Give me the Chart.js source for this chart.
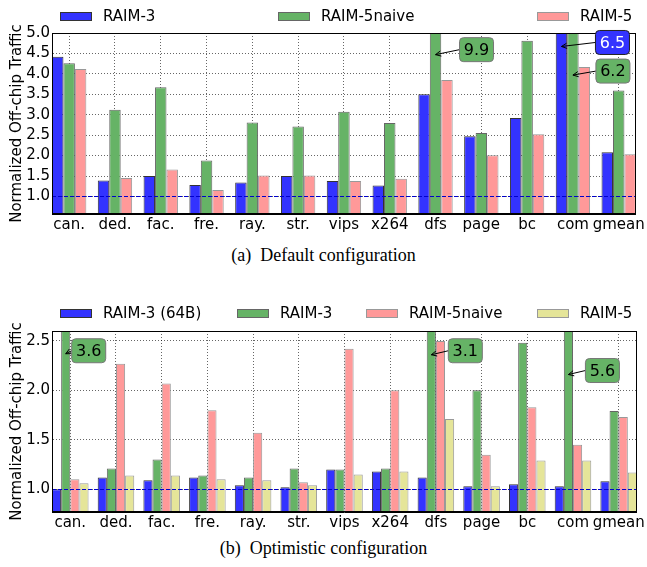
<!DOCTYPE html>
<html>
<head>
<meta charset="utf-8">
<script src="https://cdn.jsdelivr.net/npm/chart.js@4.4.1/dist/chart.umd.min.js"></script>
<style>
  html, body { margin: 0; padding: 0; background: #fff; }
  body { width: 647px; height: 567px; position: relative; overflow: hidden; }
  canvas { position: absolute; left: 0; }
  #Default_Chart { top: 0; }
  #Optimistic_Chart { top: 290px; }
  .cap { position: absolute; left: 0; width: 647px; text-align: center; white-space: pre;
         font-family: "Liberation Serif", "Times New Roman", serif; font-size: 18px; color: #000; line-height: 20px; }
</style>
</head>
<body>
<canvas id="Default_Chart" width="647" height="240"></canvas>
<div class="cap" style="top:245px">(a)  Default configuration</div>
<canvas id="Optimistic_Chart" width="647" height="248"></canvas>
<div class="cap" style="top:538px">(b)  Optimistic configuration</div>
<script>
// benchmarks
const benchmarks = ["can.", "ded.", "fac.", "fre.", "ray.", "str.", "vips", "x264", "dfs", "page", "bc", "com", "gmean"];

// (a) default configuration
const def_raim3      = [4.42, 1.39, 1.50, 1.28, 1.34, 1.50, 1.38, 1.27, 3.50, 2.47, 2.92, 6.5, 2.08];
const def_raim5naive = [4.26, 3.12, 3.67, 1.88, 2.81, 2.71, 3.07, 2.80, 9.9, 2.55, 4.81, 6.2, 3.59];
const def_raim5      = [4.12, 1.45, 1.66, 1.16, 1.51, 1.51, 1.38, 1.43, 3.85, 2.01, 2.52, 4.17, 2.03];
const def_ticks = [1.0, 1.5, 2.0, 2.5, 3.0, 3.5, 4.0, 4.5, 5.0];

// (b) optimistic configuration
const opt_raim3_64b  = [1.00, 1.12, 1.09, 1.12, 1.04, 1.02, 1.20, 1.18, 1.12, 1.03, 1.05, 1.03, 1.08];
const opt_raim3      = [3.6, 1.21, 1.30, 1.14, 1.12, 1.21, 1.20, 1.21, 3.1, 2.00, 2.48, 5.6, 1.79];
const opt_raim5naive = [1.10, 2.27, 2.07, 1.80, 1.57, 1.07, 2.42, 2.00, 2.50, 1.35, 1.83, 1.45, 1.73];
const opt_raim5      = [1.06, 1.14, 1.14, 1.10, 1.09, 1.04, 1.15, 1.18, 1.71, 1.03, 1.29, 1.29, 1.17];
const opt_ticks = [1.0, 1.5, 2.0, 2.5];

const baseline = 1.0;

const FONT = 'DejaVu Sans';
const BLUE = '#3333ff', GREEN = '#66b366', PINK = '#ff9999', YELLOW = '#e5e599';

function toXY(arr) {
    return arr.map((v, i) => ({x: i, y: v}));
}

// legend row, dashed baseline, frame and the labels for clipped bars
const extras = {
    id: 'extras',
    afterDraw(chart, args, opts) {
        const ctx = chart.ctx, a = chart.chartArea;
        const ys = chart.scales.y;
        ctx.save();

        // baseline at 1.0
        const yb = Math.round(ys.getPixelForValue(baseline)) + 0.5;
        ctx.strokeStyle = '#0000cc';
        ctx.lineWidth = 1;
        ctx.setLineDash([4, 2]);
        ctx.beginPath();
        ctx.moveTo(a.left, yb);
        ctx.lineTo(a.right, yb);
        ctx.stroke();
        ctx.setLineDash([]);

        // frame
        ctx.strokeStyle = '#000';
        ctx.strokeRect(Math.round(a.left) + 0.5, Math.round(a.top) + 0.5,
                       Math.round(a.right - a.left) - 1, Math.round(a.bottom - a.top) - 1);

        // legend
        ctx.font = '15px "' + FONT + '"';
        ctx.textBaseline = 'middle';
        ctx.textAlign = 'left';
        chart.data.datasets.forEach((ds, i) => {
            const lx = opts.legendX[i], ly = opts.legendY;
            ctx.fillStyle = ds.backgroundColor;
            ctx.fillRect(lx, ly - 4.5, 32, 9);
            ctx.strokeStyle = ds.borderColor;
            ctx.strokeRect(lx + 0.5, ly - 4.5 + 0.5, 31, 8);
            ctx.fillStyle = '#000';
            ctx.fillText(ds.label, lx + 43, ly + 1);
        });

        // notes for the bars that leave the axes
        opts.notes.forEach(n => {
            const bar = chart.getDatasetMeta(n.ds).data[n.i];
            const tx = bar.x, ty = ys.getPixelForValue(n.tip);
            const cx = tx + n.dx, cy = ty + n.dy;
            const w = 34, h = 24;
            // arrow
            ctx.strokeStyle = '#000';
            ctx.lineWidth = 1;
            ctx.beginPath();
            ctx.moveTo(cx - w / 2, cy);
            ctx.lineTo(tx, ty);
            ctx.stroke();
            const ang = Math.atan2(cy - ty, cx - w / 2 - tx);
            ctx.beginPath();
            ctx.moveTo(tx + 6 * Math.cos(ang - 0.45), ty + 6 * Math.sin(ang - 0.45));
            ctx.lineTo(tx, ty);
            ctx.lineTo(tx + 6 * Math.cos(ang + 0.45), ty + 6 * Math.sin(ang + 0.45));
            ctx.stroke();
            // box
            ctx.beginPath();
            ctx.roundRect(cx - w / 2, cy - h / 2, w, h, 4);
            ctx.fillStyle = n.fill;
            ctx.fill();
            ctx.strokeStyle = n.edge;
            ctx.stroke();
            ctx.fillStyle = n.color;
            ctx.textAlign = 'center';
            ctx.font = '16px "' + FONT + '"';
            const val = chart.data.datasets[n.ds].data[n.i].y;
            ctx.fillText(val.toFixed(1), cx, cy + 1);
            ctx.textAlign = 'left';
        });
        ctx.restore();
    }
};

function makeOptions(ymin, ymax, yticks, xpad, legendX, legendY, notes, topPad) {
    const gridStyle = {color: 'rgba(0,0,0,0.6)', drawTicks: false, offset: false, lineWidth: 1};
    return {
        responsive: false,
        animation: false,
        layout: {padding: {top: topPad, right: 9, left: 0, bottom: 0}},
        plugins: {
            legend: {display: false},
            tooltip: {enabled: false},
            extras: {legendX: legendX, legendY: legendY, notes: notes}
        },
        datasets: {bar: {categoryPercentage: 2 * xpad, barPercentage: 1.0, borderWidth: 1}},
        scales: {
            x: {
                type: 'linear', min: -xpad, max: benchmarks.length - 1 + xpad, offset: false, z: 1,
                afterBuildTicks: s => { s.ticks = benchmarks.map((b, i) => ({value: i})); },
                afterFit: s => { s.height = 26; },
                ticks: {callback: v => benchmarks[v], color: '#000', font: {family: FONT, size: 15},
                        padding: 2, maxRotation: 0, autoSkip: false},
                grid: gridStyle,
                border: {color: '#000', dash: [1, 2]}
            },
            y: {
                min: ymin, max: ymax, z: 1,
                afterBuildTicks: s => { s.ticks = yticks.map(v => ({value: v})); },
                afterFit: s => { s.width = 52; },
                ticks: {callback: v => v.toFixed(1), color: '#000', font: {family: FONT, size: 15}, padding: 2},
                grid: gridStyle,
                border: {color: '#000', dash: [1, 2]},
                title: {display: true, text: 'Normalized Off-chip Traffic', color: '#000',
                        font: {family: FONT, size: 15}, padding: {top: 8, bottom: 0}}
            }
        }
    };
}

// (a)
let def_c = document.getElementById('Default_Chart');
let def_chart = new Chart(def_c, {
    type: 'bar',
    data: {
        datasets: [{
            label: "RAIM-3",
            data: toXY(def_raim3),
            backgroundColor: BLUE,
            borderColor: '#333333'
        },{
            label: "RAIM-5naive",
            data: toXY(def_raim5naive),
            backgroundColor: GREEN,
            borderColor: '#666666'
        },{
            label: "RAIM-5",
            data: toXY(def_raim5),
            backgroundColor: PINK,
            borderColor: '#999999'
        }]
    },
    options: makeOptions(0.57, 5.0, def_ticks, 0.375, [60, 278, 537], 16.5, [
        {ds: 1, i: 8, tip: 4.47, dx: 41, dy: -5, fill: GREEN, edge: '#777', color: '#000'},
        {ds: 0, i: 11, tip: 4.67, dx: 51, dy: -4, fill: BLUE, edge: '#222', color: '#fff'},
        {ds: 1, i: 11, tip: 3.97, dx: 40, dy: -4, fill: GREEN, edge: '#777', color: '#000'}
    ], 33),
    plugins: [extras]
});

// (b)
let opt_c = document.getElementById('Optimistic_Chart');
let opt_chart = new Chart(opt_c, {
    type: 'bar',
    data: {
        datasets: [{
            label: "RAIM-3 (64B)",
            data: toXY(opt_raim3_64b),
            backgroundColor: BLUE,
            borderColor: '#333333'
        },{
            label: "RAIM-3",
            data: toXY(opt_raim3),
            backgroundColor: GREEN,
            borderColor: '#666666'
        },{
            label: "RAIM-5naive",
            data: toXY(opt_raim5naive),
            backgroundColor: PINK,
            borderColor: '#999999'
        },{
            label: "RAIM-5",
            data: toXY(opt_raim5),
            backgroundColor: YELLOW,
            borderColor: '#999999'
        }]
    },
    options: makeOptions(0.77, 2.6, opt_ticks, 0.4, [60, 237, 366, 537], 23.5, [
        {ds: 1, i: 0, tip: 2.37, dx: 23, dy: -3, fill: GREEN, edge: '#777', color: '#000'},
        {ds: 1, i: 8, tip: 2.36, dx: 34, dy: -4, fill: GREEN, edge: '#777', color: '#000'},
        {ds: 1, i: 11, tip: 2.16, dx: 34, dy: -4, fill: GREEN, edge: '#777', color: '#000'}
    ], 41),
    plugins: [extras]
});
</script>
</body>
</html>
